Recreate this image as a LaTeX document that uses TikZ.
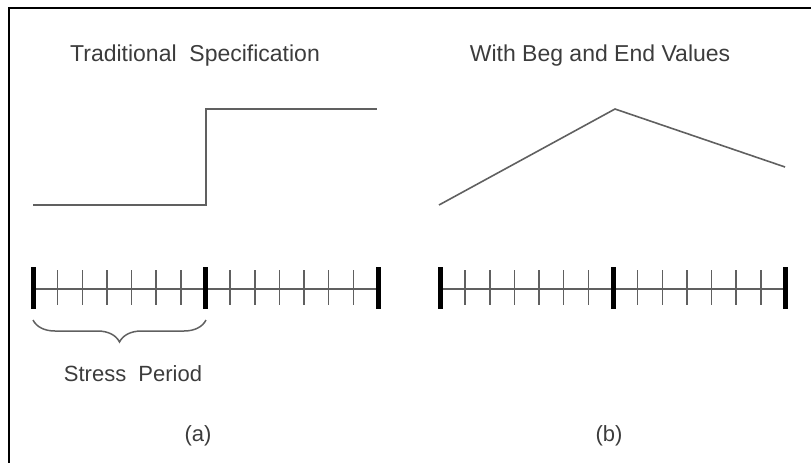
\documentclass[tikz,border=0pt]{standalone}
\usepackage{fontspec}
\setsansfont{Liberation Sans}
\usepackage{xcolor}
\usetikzlibrary{decorations.pathreplacing}
\definecolor{plotgray}{RGB}{96, 96, 96}
\definecolor{labelgray}{RGB}{60, 60, 60}

\tikzset{
    caption/.style={font=\sffamily\fontsize{22}{26}\selectfont, text=labelgray, inner sep=0pt},
    heading/.style={caption, font=\sffamily\fontsize{23}{27}\selectfont},
    curve/.style={draw=plotgray, line width=1.6pt},
    tick/.style={draw=plotgray, line width=1.5pt},
    bigtick/.style={draw=black, line width=5pt}
}

\begin{document}
\begin{tikzpicture}[x=1pt, y=-1pt]
        \useasboundingbox (0,0) rectangle (811,463);
        % Frame
        \draw[line width=2pt] (9,463) -- (9,8) -- (811,8);

        % Titles
        \node[heading] (tradtitle) at (195, 56) {Traditional\ \ Specification};
        \node[heading] (begendtitle) at (600, 56) {With Beg and End Values};

        % (a) stepped value
        \coordinate (a0) at (33, 205);
        \coordinate (a1) at (206, 205);
        \coordinate (a2) at (206, 109);
        \coordinate (a3) at (377, 109);
        \draw[curve] (a0) -- (a1) -- (a2) -- (a3);

        % (b) linear between begin and end values
        \coordinate (b0) at (439, 205);
        \coordinate (b1) at (615, 109);
        \coordinate (b2) at (785, 167);
        \draw[curve] (b0) -- (b1) -- (b2);

        % Time axes with stress periods and time steps
        \foreach \xs/\nm in {33/a, 440.5/b} {
            \coordinate (\nm start) at (\xs, 289);
            \coordinate (\nm end) at (\xs+345, 289);
            \draw[tick] (\nm start) -- (\nm end);
            \foreach \k in {1,...,13}
                \draw[tick] (\xs+\k*24.64, 270) -- (\xs+\k*24.64, 305);
            \foreach \k in {0,1,2}
                \draw[bigtick] (\xs+\k*172.5, 267) -- (\xs+\k*172.5, 309);
        }

        % Stress period brace
        \coordinate (sp0) at (33, 320);
        \coordinate (sp1) at (206, 320);
        \draw[plotgray, line width=1.5pt, decorate, decoration={brace, mirror, amplitude=22pt}] (sp0) -- (sp1);
        \node[caption] (sptext) at (133, 374) {Stress\ \ Period};

        % Panel labels
        \node[caption] (alabel) at (198, 436) {(a)};
        \node[caption] (blabel) at (609, 436) {(b)};
    \end{tikzpicture}
\end{document}
